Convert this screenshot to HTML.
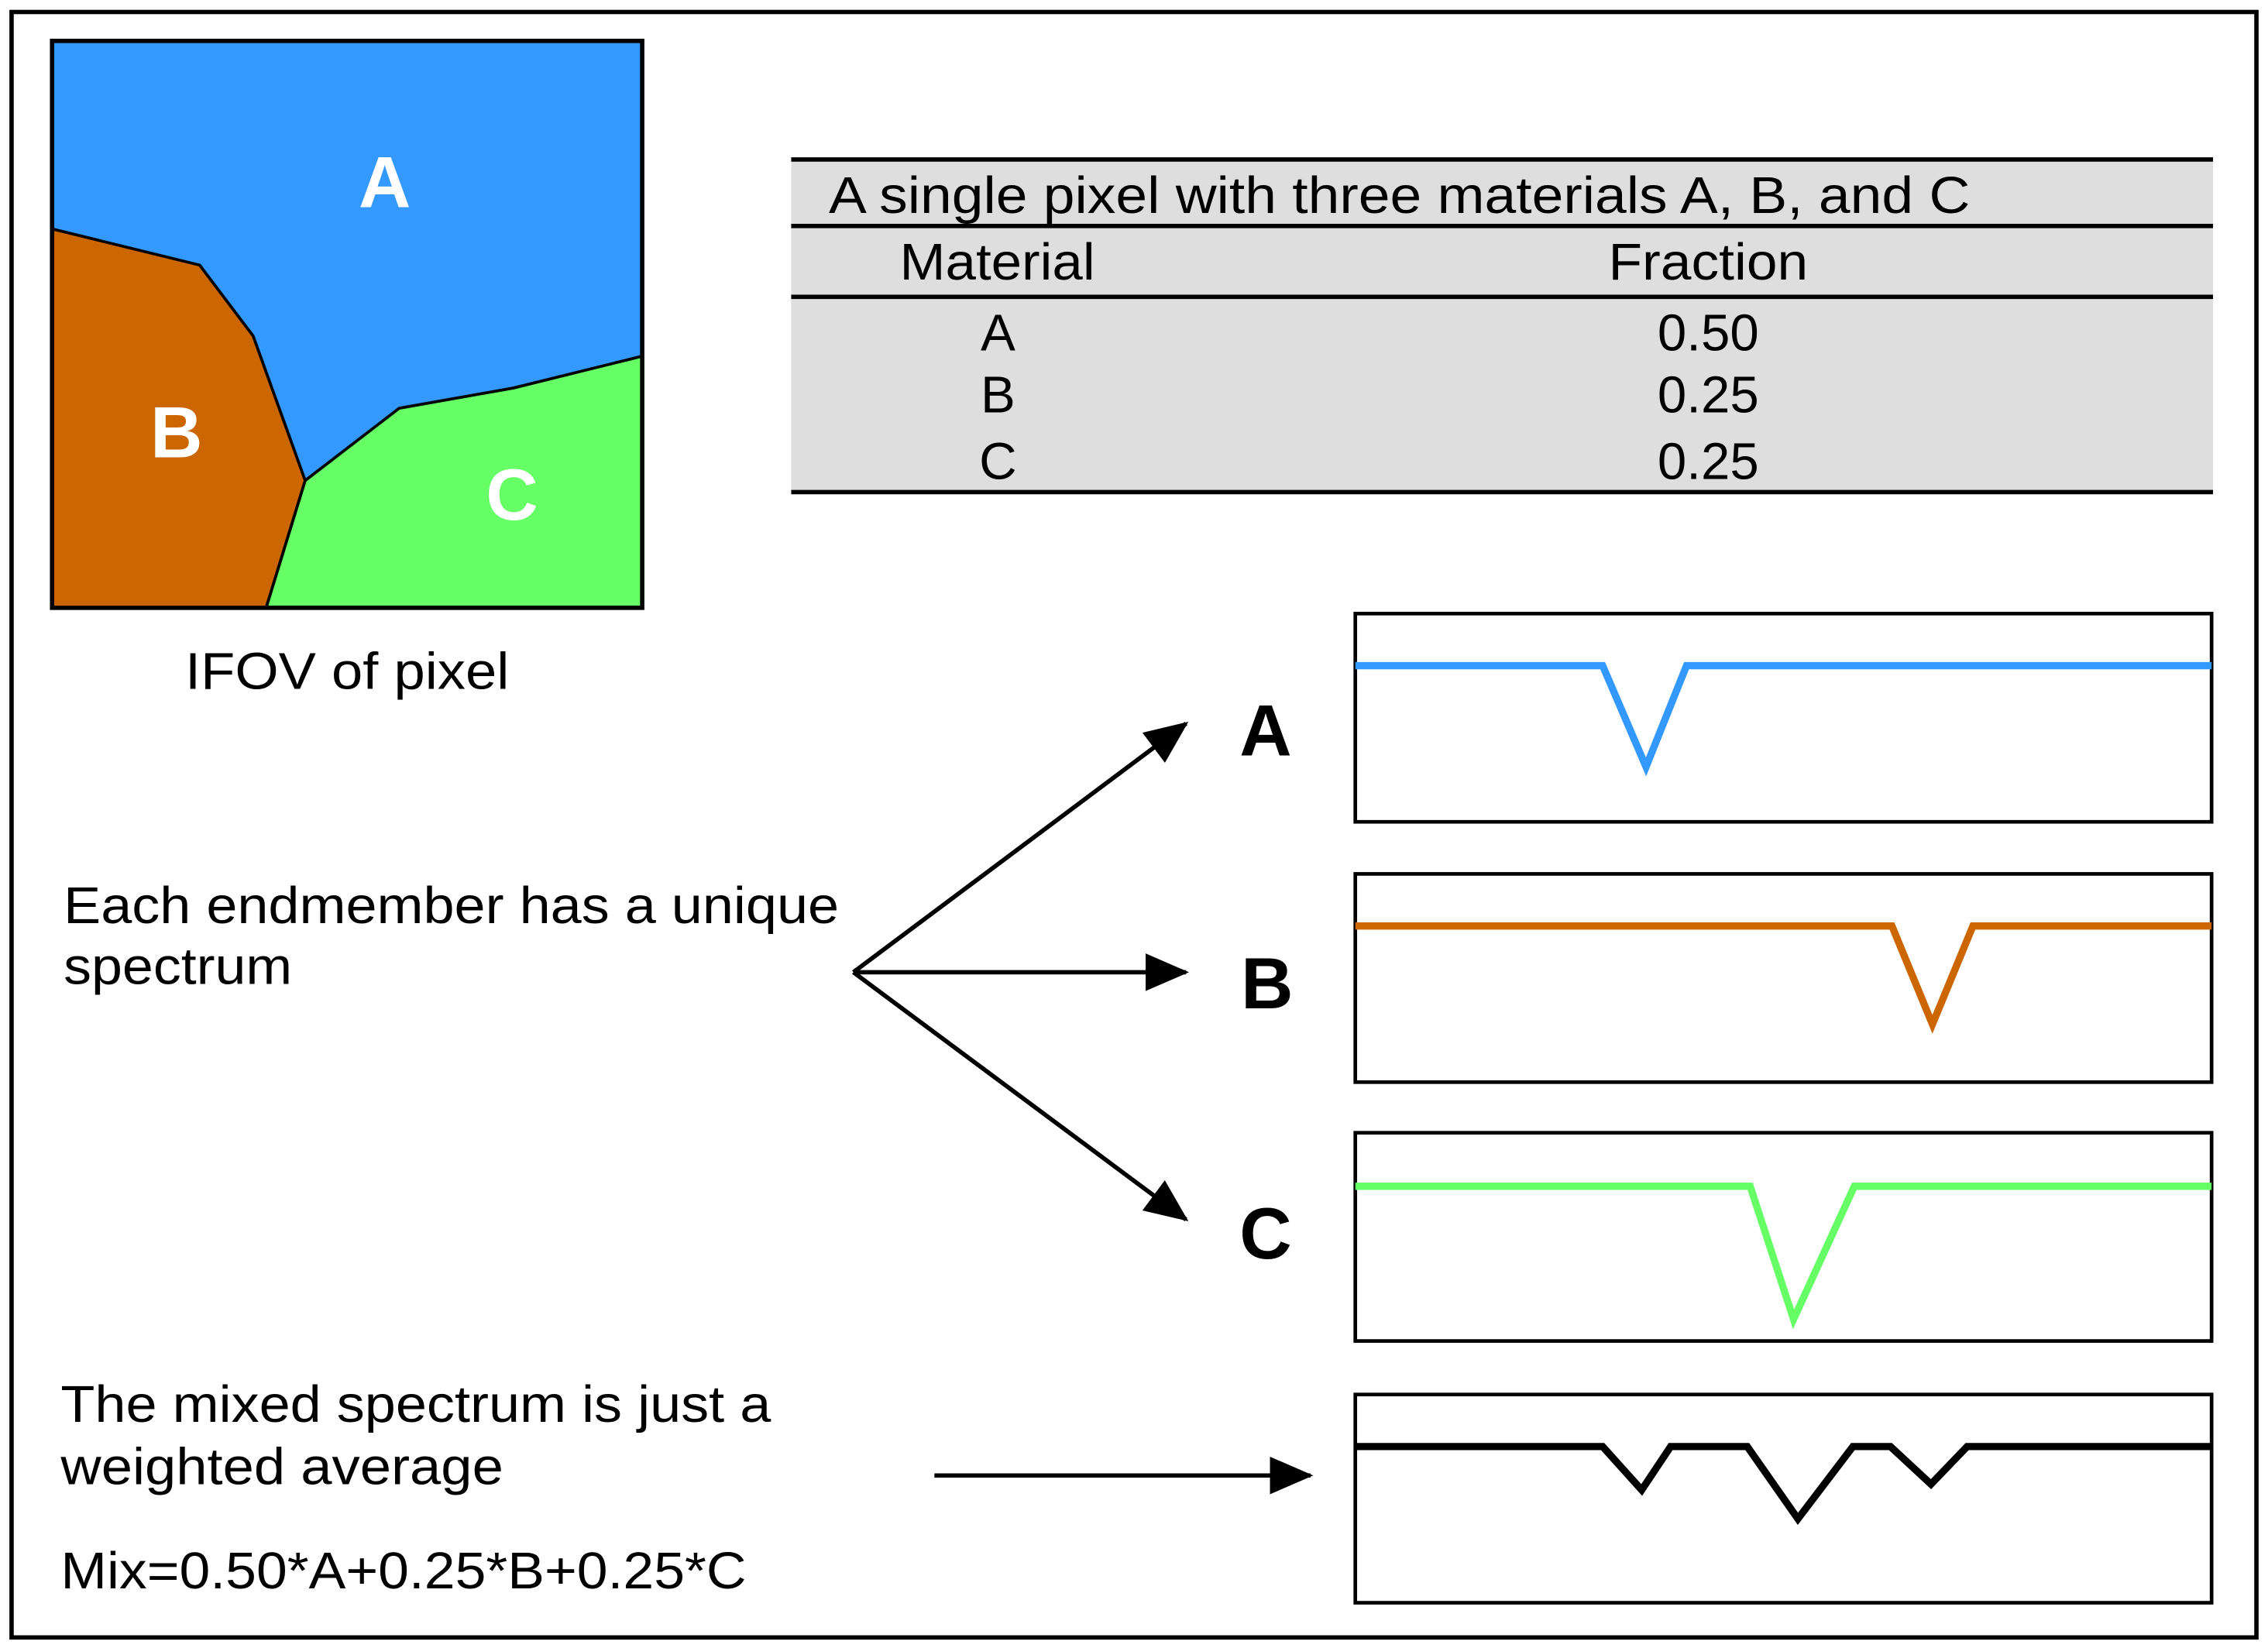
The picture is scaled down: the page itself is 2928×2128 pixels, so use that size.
<!DOCTYPE html>
<html><head><meta charset="utf-8"><style>html,body{margin:0;padding:0;background:#fff}svg{display:block}text{font-family:"Liberation Sans",sans-serif}</style></head>
<body>
<svg width="2928" height="2128" viewBox="0 0 1568 1139" xmlns="http://www.w3.org/2000/svg">
<defs>
<marker id="ah" viewBox="0 0 30 30" refX="28" refY="15" markerWidth="30" markerHeight="30" orient="auto" markerUnits="userSpaceOnUse"><path d="M0,2 L30,15 L0,28 z" fill="#000"/></marker></defs>
<rect x="0" y="0" width="1568" height="1139" fill="#fff"/>
<rect x="8" y="8" width="1552" height="1124" fill="none" stroke="#000" stroke-width="3"/>
<rect x="36" y="28" width="408" height="392" fill="#3399ff"/>
<polygon points="36,158 138,183 175,232 211,332 184,420 36,420" fill="#cc6600" stroke="#000" stroke-width="2"/>
<polygon points="211,332 276,282 355,268 444,246 444,420 184,420" fill="#66ff66" stroke="#000" stroke-width="2"/>
<rect x="36" y="28" width="408" height="392" fill="none" stroke="#000" stroke-width="3"/>
<g font-weight="bold" font-size="50" fill="#fff" text-anchor="middle">
<text x="266" y="143">A</text><text x="122" y="316">B</text><text x="354" y="359">C</text></g>
<text x="128" y="476" font-size="36" textLength="224" lengthAdjust="spacingAndGlyphs">IFOV of pixel</text>
<rect x="547" y="110" width="983" height="230" fill="#dedede"/>
<g stroke="#000" stroke-width="3"><line x1="547" y1="110" x2="1530" y2="110"/><line x1="547" y1="156" x2="1530" y2="156"/><line x1="547" y1="205" x2="1530" y2="205"/><line x1="547" y1="340" x2="1530" y2="340"/></g>
<g font-size="36">
<text x="573" y="147" textLength="789" lengthAdjust="spacingAndGlyphs">A single pixel with three materials A, B, and C</text>
<text x="622" y="193" textLength="135" lengthAdjust="spacingAndGlyphs">Material</text>
<text x="1112" y="193" textLength="138" lengthAdjust="spacingAndGlyphs">Fraction</text>
<g text-anchor="middle">
<text x="690" y="242">A</text><text x="1181" y="242">0.50</text>
<text x="690" y="285">B</text><text x="1181" y="285">0.25</text>
<text x="690" y="331">C</text><text x="1181" y="331">0.25</text></g></g>
<g fill="none" stroke="#000" stroke-width="2.5">
<rect x="937" y="424" width="592" height="144"/><rect x="937" y="604" width="592" height="144"/>
<rect x="937" y="783" width="592" height="144"/><rect x="937" y="964" width="592" height="144"/></g>
<g fill="none" stroke-width="5" stroke-linejoin="miter">
<polyline points="937,460 1108,460 1138,530 1166,460 1529,460" stroke="#3399ff"/>
<polyline points="937,640 1308,640 1336,708 1364,640 1529,640" stroke="#cc6600"/>
<polyline points="937,820 1210,820 1240,912 1282,820 1529,820" stroke="#66ff66"/>
<polyline points="937,1000 1108,1000 1135,1030 1155,1000 1208,1000 1243,1050 1281,1000 1307,1000 1335,1026 1360,1000 1529,1000" stroke="#000"/></g>
<g font-weight="bold" font-size="50" text-anchor="middle">
<text x="875" y="522">A</text><text x="876" y="697">B</text><text x="875" y="870">C</text></g>
<g stroke="#000" stroke-width="3" marker-end="url(#ah)">
<line x1="590" y1="672" x2="820" y2="500"/><line x1="590" y1="672" x2="820" y2="672"/><line x1="590" y1="672" x2="820" y2="843"/>
<line x1="646" y1="1020" x2="906" y2="1020"/></g>
<g font-size="36" lengthAdjust="spacingAndGlyphs">
<text x="44" y="638" textLength="536" lengthAdjust="spacingAndGlyphs">Each endmember has a unique</text>
<text x="44" y="680" textLength="158" lengthAdjust="spacingAndGlyphs">spectrum</text>
<text x="42" y="983" textLength="491" lengthAdjust="spacingAndGlyphs">The mixed spectrum is just a</text>
<text x="42" y="1026" textLength="306" lengthAdjust="spacingAndGlyphs">weighted average</text>
<text x="42" y="1098" textLength="474" lengthAdjust="spacingAndGlyphs">Mix=0.50*A+0.25*B+0.25*C</text></g>
</svg>
</body></html>
